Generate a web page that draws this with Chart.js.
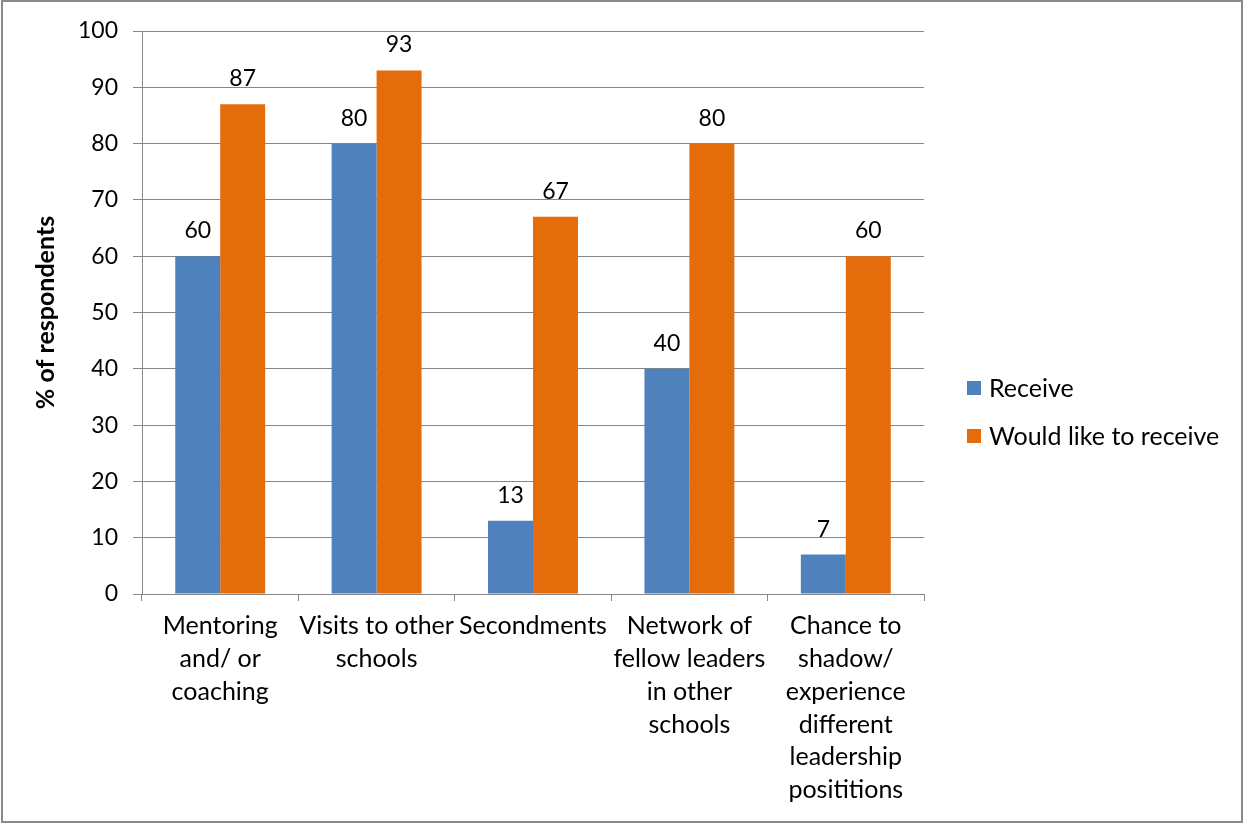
<!DOCTYPE html>
<html>
<head>
<meta charset="utf-8">
<script src="https://cdn.jsdelivr.net/npm/chart.js@4/dist/chart.umd.min.js"></script>
<style>
  html, body { margin: 0; padding: 0; background: #fff; }
  #wrap { width: 1243px; height: 823px; position: relative; }
</style>
</head>
<body>
<div id="wrap"><canvas id="chart" width="1243" height="823"></canvas></div>
<script>
// Categories (multi-line labels) and series values, in percent of respondents
const categories = [
  ['Mentoring', 'and/ or', 'coaching'],
  ['Visits to other', 'schools'],
  ['Secondments'],
  ['Network of', 'fellow leaders', 'in other', 'schools'],
  ['Chance to', 'shadow/', 'experience', 'different', 'leadership', 'posititions']
];
const receive = [60, 80, 13, 40, 7];
const wouldLikeToReceive = [87, 93, 67, 80, 60];
const seriesNames = ['Receive', 'Would like to receive'];
const yTicks = [0, 10, 20, 30, 40, 50, 60, 70, 80, 90, 100];

const FONT = 'Lato, "Open Sans", sans-serif';
const GRID = '#868686';
const BLUE = '#4F81BD';
const ORANGE = '#E46C0A';

// Value labels above each bar
const valueLabels = {
  id: 'valueLabels',
  afterDatasetsDraw(chart) {
    const ctx = chart.ctx;
    ctx.save();
    ctx.font = '23px ' + FONT;
    ctx.fillStyle = '#000';
    ctx.textAlign = 'center';
    ctx.textBaseline = 'alphabetic';
    chart.data.datasets.forEach((ds, i) => {
      chart.getDatasetMeta(i).data.forEach((bar, j) => {
        ctx.fillText(String(ds.data[j]), bar.x, bar.y - 18);
      });
    });
    ctx.restore();
  }
};

// Legend to the right of the plot
const sideLegend = {
  id: 'sideLegend',
  afterDraw(chart) {
    const ctx = chart.ctx;
    ctx.save();
    ctx.font = '25px ' + FONT;
    ctx.textBaseline = 'middle';
    ctx.textAlign = 'left';
    chart.data.datasets.forEach((ds, i) => {
      const cy = 388 + i * 48;
      ctx.fillStyle = ds.backgroundColor;
      ctx.fillRect(967, cy - 7, 14, 14);
      ctx.fillStyle = '#000';
      ctx.fillText(ds.label, 989, cy + 1);
    });
    ctx.restore();
  }
};

// Thin frame round the whole chart
const frame = {
  id: 'frame',
  afterDraw(chart) {
    const ctx = chart.ctx;
    ctx.save();
    ctx.strokeStyle = '#8a8a8a';
    ctx.lineWidth = 2;
    ctx.strokeRect(2, 1, 1240, 821);
    ctx.restore();
  }
};

new Chart(document.getElementById('chart'), {
  type: 'bar',
  data: {
    labels: categories,
    datasets: [
      { label: seriesNames[0], data: receive, backgroundColor: BLUE },
      { label: seriesNames[1], data: wouldLikeToReceive, backgroundColor: ORANGE }
    ]
  },
  options: {
    responsive: false,
    animation: false,
    devicePixelRatio: 1,
    layout: { padding: { top: 31, left: 2, right: 319, bottom: 0 } },
    datasets: { bar: { categoryPercentage: 0.575, barPercentage: 1.0 } },
    plugins: {
      legend: { display: false },
      tooltip: { enabled: false }
    },
    scales: {
      x: {
        offset: true,
        grid: { offset: true, drawOnChartArea: false, drawTicks: true, tickLength: 7, color: GRID },
        border: { display: true, color: GRID, width: 1 },
        ticks: {
          autoSkip: false, maxRotation: 0, minRotation: 0,
          color: '#000', padding: 9,
          font: { family: FONT, size: 25, lineHeight: 1.31 }
        },
        afterFit(scale) { scale.height = 823 - 594; }
      },
      y: {
        min: 0, max: 100,
        afterBuildTicks(scale) { scale.ticks = yTicks.map(v => ({ value: v })); },
        grid: { color: GRID, drawTicks: true, tickLength: 9 },
        border: { display: true, color: GRID, width: 1 },
        ticks: {
          color: '#000', padding: 15,
          font: { family: FONT, size: 23 }
        },
        title: {
          display: true, text: '% of respondents', color: '#000',
          font: { family: FONT, size: 25, weight: 'bold' },
          padding: { top: 29, bottom: 0 }
        },
        afterFit(scale) { scale.width = 142 - 2; }
      }
    }
  },
  plugins: [valueLabels, sideLegend, frame]
});
</script>
</body>
</html>
